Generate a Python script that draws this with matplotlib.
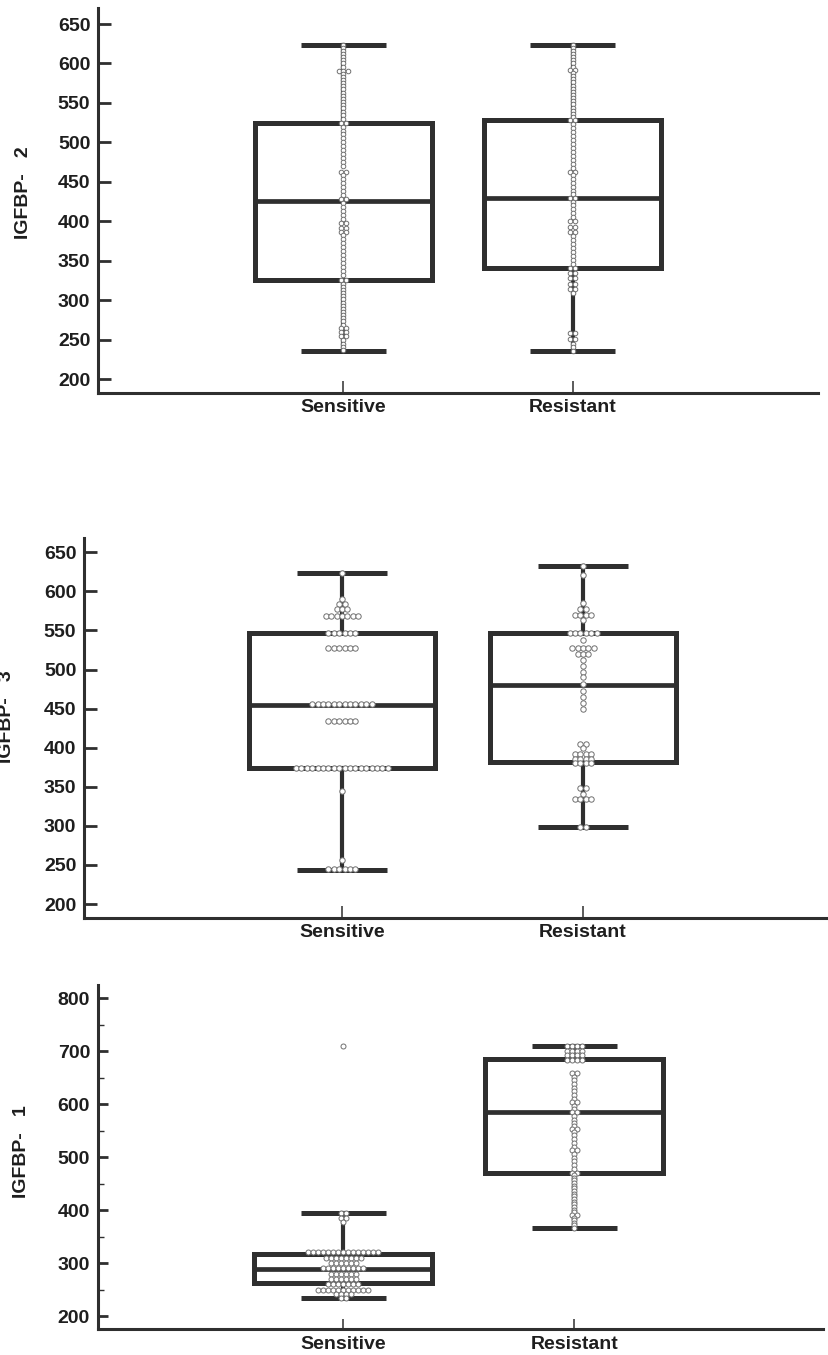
import matplotlib
matplotlib.use("Agg")
import matplotlib.pyplot as plt
from collections import Counter

plt.rcParams['font.family'] = ['Liberation Sans', 'DejaVu Sans']
plt.rcParams['font.weight'] = 'bold'

W, H, DPI = 829, 1355, 100

groups = ["Sensitive", "Resistant"]

# ---------------- IGFBP-2 ----------------
igfbp2_sensitive = [
    624, 620, 616, 612, 608, 604, 600, 596, 591, 591, 591, 587, 583, 579, 575,
    571, 567, 563, 559, 555, 551, 547, 543, 539, 535, 530, 525, 525,
    520, 515, 510, 505, 500, 495, 490, 485, 480, 475, 470, 463, 463, 458, 453,
    448, 443, 438, 433, 428, 428, 423, 418, 413, 408, 403, 398, 398, 392, 392,
    387, 387, 382, 377, 372, 367, 362, 357, 352, 347, 342, 337, 332, 326, 326,
    321, 317, 313, 309, 305, 301, 297, 293, 289, 285, 281, 277, 273, 269, 265,
    265, 259, 259, 254, 254, 249, 245, 241, 237]
igfbp2_resistant = [
    624, 620, 616, 612, 608, 604, 600, 596, 592, 592, 588, 584, 580, 576, 572,
    568, 564, 560, 556, 552, 548, 544, 540, 536, 532, 528, 528,
    523, 518, 513, 508, 503, 498, 493, 488, 483, 478, 473, 468, 463, 463, 458,
    453, 448, 443, 438, 434, 430, 430, 425, 420, 415, 410, 405, 400, 400, 393,
    393, 386, 386, 381, 376, 371, 366, 361, 356, 351, 346, 341, 341,
    335, 335, 328, 328, 321, 321, 314, 314, 309,
    258, 258, 251, 251, 245, 240, 236]
# whisker low, Q1, median, Q3, whisker high
igfbp2_box_sensitive = [235, 326, 426, 525, 624]
igfbp2_box_resistant = [235, 341, 430, 528, 624]

# ---------------- IGFBP-3 ----------------
igfbp3_sensitive = [
    623, 590, 584, 584, 578, 578, 578,
    568, 568, 568, 568, 568, 568, 568,
    547, 547, 547, 547, 547, 547,
    527, 527, 527, 527, 527, 527,
    456, 456, 456, 456, 456, 456, 456, 456, 456, 456, 456, 456,
    434, 434, 434, 434, 434, 434,
    374, 374, 374, 374, 374, 374, 374, 374, 374, 374, 374, 374, 374, 374, 374,
    374, 374, 374,
    344, 256,
    245, 245, 245, 245, 245, 245]
igfbp3_resistant = [
    632, 621, 585, 578, 578, 570, 570, 570, 570, 563,
    547, 547, 547, 547, 547, 547, 538,
    527, 527, 527, 527, 527, 520, 520, 520,
    512, 505, 497, 490, 481, 472, 465, 457, 450,
    405, 405, 399,
    392, 392, 392, 392, 386, 386, 386, 386, 380, 380, 380, 380,
    348, 348, 341, 334, 334, 334, 334,
    299, 299]
igfbp3_box_sensitive = [244, 374, 455, 547, 623]
igfbp3_box_resistant = [298, 382, 480, 547, 633]

# ---------------- IGFBP-1 ----------------
igfbp1_sensitive = [
    710,
    394, 394, 386, 386, 378,
    320, 320, 320, 320, 320, 320, 320, 320, 320, 320, 320, 320, 320, 320, 320,
    309, 309, 309, 309, 309, 309, 309, 309,
    300, 300, 300, 300, 300, 300,
    290, 290, 290, 290, 290, 290, 290, 290, 290,
    280, 280, 280, 280, 280, 280,
    270, 270, 270, 270, 270, 270,
    260, 260, 260, 260, 260, 260, 260,
    250, 250, 250, 250, 250, 250, 250, 250, 250, 250, 250,
    241, 241, 241, 241,
    234, 234]
igfbp1_resistant = [
    710, 710, 710, 710, 701, 701, 701, 701, 692, 692, 692, 692, 684, 684, 684, 684,
    658, 658, 651, 645, 638, 631, 624, 617, 610, 604, 604, 597, 591, 585, 585,
    578, 571, 565, 559, 554, 554, 548, 541, 534, 527, 520, 513, 513, 506, 499,
    492, 485, 478, 471, 471, 466, 461, 456, 451, 446, 441, 436, 431, 426, 421,
    416, 411, 406, 401, 396, 391, 391, 386, 381, 376, 371, 366]
igfbp1_box_sensitive = [234, 262, 289, 318, 394]
igfbp1_box_resistant = [366, 470, 585, 685, 710]

# layout of each panel in pixels: left, top, right, bottom of the axes frame
panels = [
    dict(rect=(98, 8, 818, 393), ylim=(182.3, 670.3), xlim=(-1.07, 2.07),
         yticks=list(range(200, 651, 50)), minor=None,
         label="IGFBP-   2", label_xy=(23.5, 193), dot=4.6, ticklen=9.0,
         sens=igfbp2_sensitive, res=igfbp2_resistant,
         bs=igfbp2_box_sensitive, br=igfbp2_box_resistant),
    dict(rect=(84, 538, 829, 917.7), ylim=(182.5, 668.3), xlim=(-1.07, 2.02),
         yticks=list(range(200, 651, 50)), minor=None,
         label="IGFBP-   3", label_xy=(7, 717), dot=5.4, ticklen=9.0,
         sens=igfbp3_sensitive, res=igfbp3_resistant,
         bs=igfbp3_box_sensitive, br=igfbp3_box_resistant),
    dict(rect=(97.7, 985, 822.7, 1329.3), ylim=(175, 825), xlim=(-1.063, 2.075),
         yticks=list(range(200, 801, 100)), minor=list(range(250, 800, 100)),
         label="IGFBP-   1", label_xy=(21.5, 1152), dot=5.0, ticklen=7.5,
         sens=igfbp1_sensitive, res=igfbp1_resistant,
         bs=igfbp1_box_sensitive, br=igfbp1_box_resistant),
]

DARK = "#2f2f2f"


def box_stats(s):
    lo, q1, med, q3, hi = s
    return dict(whislo=lo, q1=q1, med=med, q3=q3, whishi=hi, fliers=[])


def dot_positions(values, center, step):
    xs, ys = [], []
    for v, n in Counter(values).items():
        for i in range(n):
            xs.append(center + (i - (n - 1) / 2) * step)
            ys.append(v)
    return xs, ys


fig = plt.figure(figsize=(W / DPI, H / DPI), dpi=DPI)

for p in panels:
    l, t, r, b = p["rect"]
    ax = fig.add_axes([l / W, 1 - b / H, (r - l) / W, (b - t) / H])
    ax.set_xlim(*p["xlim"])
    ax.set_ylim(*p["ylim"])

    ax.bxp([box_stats(p["bs"]), box_stats(p["br"])], positions=[0, 1],
           widths=0.77, capwidths=0.37, showfliers=False,
           boxprops=dict(color=DARK, linewidth=3.6, solid_joinstyle="miter"),
           medianprops=dict(color=DARK, linewidth=3.4),
           whiskerprops=dict(color=DARK, linewidth=3.0),
           capprops=dict(color=DARK, linewidth=3.6, solid_capstyle="butt"))

    px_per_x = (r - l) / (p["xlim"][1] - p["xlim"][0])
    step = p["dot"] / px_per_x
    size = (p["dot"] * 72 / DPI) ** 2
    for center, vals in ((0, p["sens"]), (1, p["res"])):
        xs, ys = dot_positions(vals, center, step)
        ax.scatter(xs, ys, s=size, facecolor="white", edgecolor="#707070",
                   linewidth=0.7, zorder=4)

    for side in ("top", "right"):
        ax.spines[side].set_visible(False)
    for side in ("left", "bottom"):
        ax.spines[side].set_linewidth(2.2)
        ax.spines[side].set_color(DARK)

    ax.set_yticks(p["yticks"])
    ax.set_yticklabels([str(v) for v in p["yticks"]])
    if p["minor"]:
        ax.set_yticks(p["minor"], minor=True)
        ax.tick_params(axis="y", which="minor", direction="in", length=4.3,
                       width=1.0, color=DARK)
    ax.set_xticks([0, 1])
    ax.set_xticklabels(groups)
    ax.tick_params(axis="y", which="major", direction="in", length=p["ticklen"],
                   width=2.0, color=DARK, pad=5.5, labelsize=14,
                   labelcolor="#1e1e1e")
    ax.tick_params(axis="x", direction="in", length=p["ticklen"], width=1.1,
                   color=DARK, pad=4.5, labelsize=14, labelcolor="#1e1e1e")
    for lab in ax.get_xticklabels() + ax.get_yticklabels():
        lab.set_fontweight("bold")

    lx, ly = p["label_xy"]
    fig.text(lx / W, 1 - ly / H, p["label"], rotation=90, ha="center",
             va="center", fontsize=14, fontweight="bold", color="#1e1e1e")

fig.savefig("out.png", dpi=DPI, facecolor="white")
